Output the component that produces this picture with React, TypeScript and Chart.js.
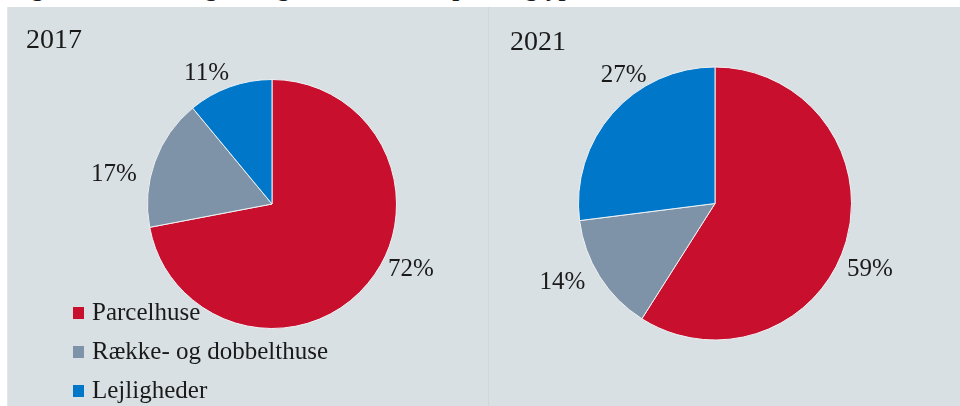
import React, { useEffect, useRef } from "react";
import { Chart, registerables } from "chart.js";

Chart.register(...registerables);

// ---------- data ----------
const CATEGORIES = ["Parcelhuse", "Række- og dobbelthuse", "Lejligheder"];
const YEARS = ["2017", "2021"];
const SHARES_2017 = [72, 17, 11];
const SHARES_2021 = [59, 14, 27];
const COLORS = ["#C8102E", "#7F93A8", "#0077C8"];
const TITLE = "Figur 3.3 Udvikling i boligmassen fordelt på boligtype";

// ---------- style / layout ----------
const SERIF = '"Liberation Serif", "DejaVu Serif", serif';
const PANEL_BG = "#d9e0e3";
const TEXT = "#1a1a1a";
// label placement relative to the slice's mid-angle: [angle nudge (deg), radius factor]
const LABEL_NUDGE_2017: [number, number][] = [[-15, 1.227], [-8.5, 1.294], [-6.5, 1.187]];
const LABEL_NUDGE_2021: [number, number][] = [[6.1, 1.227], [5.5, 1.253], [13.5, 1.165]];

function makeLabelPlugin(nudges: [number, number][], size: number) {
  return {
    id: "outsideLabels",
    afterDatasetsDraw(chart: any) {
      const ctx = chart.ctx as CanvasRenderingContext2D;
      const meta = chart.getDatasetMeta(0);
      const data = chart.data.datasets[0].data as number[];
      const total = data.reduce((a, b) => a + b, 0);
      ctx.save();
      ctx.font = `${size}px ${SERIF}`;
      ctx.fillStyle = TEXT;
      ctx.textAlign = "center";
      ctx.textBaseline = "alphabetic";
      meta.data.forEach((arc: any, i: number) => {
        const p = arc.getProps(["x", "y", "startAngle", "endAngle", "outerRadius"], true);
        const [dA, f] = nudges[i];
        const a = (p.startAngle + p.endAngle) / 2 + (dA * Math.PI) / 180;
        const r = p.outerRadius * f;
        const cx = p.x + r * Math.cos(a);
        const cy = p.y + r * Math.sin(a);
        ctx.fillText(Math.round((data[i] / total) * 100) + "%", cx, cy + size * 0.34);
      });
      ctx.restore();
    },
  };
}

function PieCanvas(props: {
  values: number[];
  nudges: [number, number][];
  width: number;
  height: number;
  padding: { left: number; right: number; top: number; bottom: number };
  left: number;
  top: number;
}) {
  const ref = useRef<HTMLCanvasElement | null>(null);
  useEffect(() => {
    if (!ref.current) return;
    const chart = new Chart(ref.current, {
      type: "pie",
      data: {
        labels: CATEGORIES,
        datasets: [
          {
            data: props.values,
            backgroundColor: COLORS,
            borderColor: "#eef1f3",
            borderWidth: 1,
            hoverBorderWidth: 1,
            hoverOffset: 0,
            offset: 0,
          } as any,
        ],
      },
      options: {
        animation: false,
        responsive: false,
        maintainAspectRatio: false,
        events: [],
        layout: { padding: props.padding },
        plugins: { legend: { display: false }, tooltip: { enabled: false } },
      },
      plugins: [makeLabelPlugin(props.nudges, 25) as any],
    });
    return () => chart.destroy();
  }, []);
  return (
    <canvas
      ref={ref}
      width={props.width}
      height={props.height}
      style={{ position: "absolute", left: props.left, top: props.top, width: props.width, height: props.height }}
    />
  );
}

function Text(props: { x: number; baseline: number; size: number; bold?: boolean; children: any }) {
  return (
    <div
      style={{
        position: "absolute",
        left: props.x,
        top: props.baseline - props.size * 0.8375,
        fontFamily: SERIF,
        fontSize: props.size,
        fontWeight: props.bold ? "bold" : "normal",
        lineHeight: props.size + "px",
        whiteSpace: "nowrap",
        color: TEXT,
      }}
    >
      {props.children}
    </div>
  );
}

export default function App() {
  const legendBaselines = [320, 359, 398];
  return (
    <div
      style={{
        position: "fixed",
        left: 0,
        top: 0,
        width: 960,
        height: 406,
        background: "#ffffff",
        overflow: "hidden",
      }}
    >
      <Text x={9} baseline={-4} size={25} bold>
        {TITLE}
      </Text>
      <div style={{ position: "absolute", left: 7, top: 7, width: 953, height: 399, background: PANEL_BG }} />
      <div style={{ position: "absolute", left: 7, top: 7, width: 1, height: 399, background: "#e4e7e9" }} />
      <div style={{ position: "absolute", left: 488, top: 7, width: 1, height: 399, background: "#d3d6d8" }} />

      <PieCanvas
        values={SHARES_2017}
        nudges={LABEL_NUDGE_2017}
        left={7}
        top={7}
        width={481}
        height={399}
        padding={{ left: 140, right: 91, top: 72, bottom: 77 }}
      />
      <PieCanvas
        values={SHARES_2021}
        nudges={LABEL_NUDGE_2021}
        left={488}
        top={7}
        width={472}
        height={399}
        padding={{ left: 90, right: 108, top: 59.5, bottom: 65.5 }}
      />

      <Text x={26} baseline={48} size={28}>
        {YEARS[0]}
      </Text>
      <Text x={510} baseline={50} size={28}>
        {YEARS[1]}
      </Text>

      {CATEGORIES.map((c, i) => (
        <React.Fragment key={c}>
          <div
            style={{
              position: "absolute",
              left: 73,
              top: legendBaselines[i] - 13,
              width: 11,
              height: 12,
              background: COLORS[i],
            }}
          />
          <Text x={92} baseline={legendBaselines[i]} size={25}>
            {c}
          </Text>
        </React.Fragment>
      ))}
    </div>
  );
}
